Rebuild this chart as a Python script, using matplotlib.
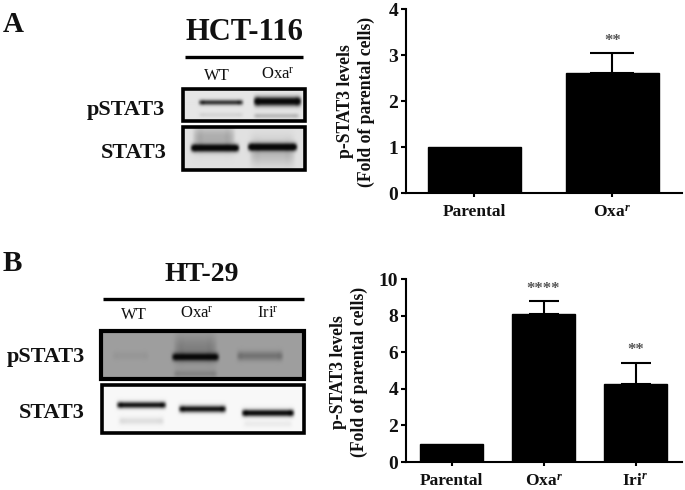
import numpy as np
import matplotlib
matplotlib.use('Agg')
import matplotlib.pyplot as plt
from matplotlib.patches import Rectangle

plt.rcParams['font.family'] = ['Liberation Serif', 'DejaVu Serif']
plt.rcParams['mathtext.fontset'] = 'custom'
plt.rcParams['mathtext.rm'] = 'Liberation Serif'
plt.rcParams['mathtext.it'] = 'Liberation Serif:italic:bold'
plt.rcParams['mathtext.bf'] = 'Liberation Serif:bold'

W, H = 685, 490

# bar chart values
labels_a = ['Parental', r'Oxa$^{\mathit{r}}$']
means_a = [1.0, 2.6]
errs_a = [0.0, 0.44]
stars_a = ['', '**']
star_y_a = [0, 3.3]

labels_b = ['Parental', r'Oxa$^{\mathit{r}}$', r'Iri$^{\mathit{r}}$']
means_b = [1.0, 8.1, 4.27]
errs_b = [0.0, 0.7, 1.13]
stars_b = ['', '****', '**']
star_y_b = [0, 9.45, 6.1]

# blot bands: x0, x1, y, half height, darkness (picture pixels)
bands_a_top = [(198, 244, 103, 2.2, 0.8), (253, 302, 102, 4.0, 1.1),
               (198, 244, 115, 1.8, 0.08), (253, 300, 116, 2.0, 0.2)]
bands_a_bot = [(190, 240, 148, 3.4, 1.1), (247, 298, 147, 3.4, 1.1),
               (192, 236, 138, 12.0, 0.2), (249, 296, 152, 13.0, 0.16)]
bands_b_top = [(171, 220, 357, 3.6, 0.6), (173, 218, 350, 14.0, 0.12),
               (173, 218, 374, 3.5, 0.1), (236, 284, 356, 4.5, 0.17),
               (112, 150, 356, 4.0, 0.03)]
bands_b_bot = [(116, 167, 405, 3.0, 0.95), (178, 227, 409, 3.2, 0.95),
               (241, 295, 413, 3.2, 1.05), (118, 165, 421, 3.5, 0.1),
               (243, 293, 424, 3.0, 0.05)]


def soften(img):
    """small gaussian blur, the scan in the reference is soft"""
    kernel = np.array([1, 4, 6, 4, 1]) / 16
    pad = np.pad(img, 2, mode='edge')
    pad = np.apply_along_axis(lambda r: np.convolve(r, kernel, mode='same'), 0, pad)
    pad = np.apply_along_axis(lambda r: np.convolve(r, kernel, mode='same'), 1, pad)
    return pad[2:-2, 2:-2]


def blot(ax, x0, x1, y0, y1, bg, bands, lw):
    """draw one blot panel as a small grey image with its frame"""
    xx, yy = np.meshgrid(np.arange(x0, x1) + 0.5, np.arange(y0, y1) + 0.5)
    img = np.full(xx.shape, bg, dtype=float)
    for bx0, bx1, by, bh, dark in bands:
        edge = 12 if bh > 8 else 7
        across = np.clip((xx - bx0) / edge, 0, 1) * np.clip((bx1 - xx) / edge, 0, 1)
        across = across * (3 - 2 * across)
        img -= dark * across * np.exp(-((yy - by) / bh) ** 2)
    img = soften(np.clip(img, 0.03, 1))
    ax.imshow(img, cmap='gray', vmin=0, vmax=1, aspect='auto',
              extent=(x0, x1, y1, y0), interpolation='bilinear', zorder=1)
    ax.add_patch(Rectangle((x0, y0), x1 - x0, y1 - y0, fill=False, ec='black', lw=lw, zorder=2))


def bars(box, labels, means, errs, stars, star_y, ymax, yticks, width, capsize):
    left, right, top, bottom = box
    ax = fig.add_axes([left / W, 1 - bottom / H, (right - left) / W, (bottom - top) / H])
    x = np.arange(len(labels))
    ax.bar(x, means, width=width, color='black', edgecolor='black')
    ax.errorbar(x[1:], means[1:], yerr=[[0] * (len(x) - 1), errs[1:]], fmt='none',
                ecolor='black', elinewidth=1.5, capsize=capsize, capthick=1.5)
    for i, s in enumerate(stars):
        if s:
            ax.text(i, star_y[i], s, ha='center', va='center', fontsize=12,
                    fontweight='bold', color='#555555')
    ax.set_xlim(-0.495, len(x) - 0.495)
    ax.set_ylim(0, ymax)
    ax.set_xticks(x)
    ax.set_xticklabels(labels, fontsize=12.5, fontweight='bold', color='#111111')
    ax.set_yticks(yticks)
    ax.set_yticklabels([str(v) for v in yticks], fontsize=14, fontweight='bold', color='#111111')
    ax.tick_params(axis='y', length=3.5, width=1.5, pad=2)
    ax.tick_params(axis='x', length=3, width=1.5, pad=5)
    ax.patch.set_alpha(0)
    for s in ['top', 'right']:
        ax.spines[s].set_visible(False)
    for s in ['left', 'bottom']:
        ax.spines[s].set_linewidth(1.5)
    return ax


fig = plt.figure(figsize=(W / 100, H / 100), dpi=100, facecolor='white')

# overlay in picture pixels for the blots and their captions
bg = fig.add_axes([0, 0, 1, 1])
bg.set_xlim(0, W)
bg.set_ylim(H, 0)
bg.axis('off')

blot(bg, 183, 305, 89, 121, 0.9, bands_a_top, 2.6)
blot(bg, 183, 305, 127, 170, 0.88, bands_a_bot, 2.6)
blot(bg, 101, 304, 331, 379, 0.62, bands_b_top, 3.0)
blot(bg, 102, 304, 385, 433, 0.97, bands_b_bot, 2.6)
bg.set_xlim(0, W)
bg.set_ylim(H, 0)

bg.plot([185, 303], [57, 57], color='black', lw=2.4, solid_capstyle='butt')
bg.plot([103, 304], [298.5, 298.5], color='black', lw=2.4, solid_capstyle='butt')


def cap(x, y, s, size, ha='center', weight='bold'):
    bg.text(x, y, s, fontsize=size, ha=ha, va='center', fontweight=weight, color='#111111')


cap(3, 24, 'A', 21, ha='left')
cap(3, 263, 'B', 21, ha='left')
cap(244, 33, 'HCT-116', 22)
cap(202, 274, 'HT-29', 20)
cap(217, 76, 'WT', 12, weight='normal')
cap(278, 75, r'Oxa$^{\mathrm{r}}$', 12, weight='normal')
cap(134, 315, 'WT', 12, weight='normal')
cap(197, 314, r'Oxa$^{\mathrm{r}}$', 12, weight='normal')
cap(268, 314, r'Iri$^{\mathrm{r}}$', 12, weight='normal')
cap(165, 110, 'pSTAT3', 16, ha='right')
cap(167, 153, 'STAT3', 16, ha='right')
cap(85, 357, 'pSTAT3', 16, ha='right')
cap(85, 413, 'STAT3', 16, ha='right')

for x, y, s in [(346, 101, 'p-STAT3 levels'), (366, 102, '(Fold of parental cells)'),
                (339, 372, 'p-STAT3 levels'), (359, 372, '(Fold of parental cells)')]:
    bg.text(x, y, s, rotation=90, fontsize=12.7, fontweight='bold', ha='center', va='center', color='#111111')

bars((406, 682, 9, 193), labels_a, means_a, errs_a, stars_a, star_y_a, 4, [0, 1, 2, 3, 4], 0.674, 16)
bars((406, 682, 279, 462), labels_b, means_b, errs_b, stars_b, star_y_b, 10, [0, 2, 4, 6, 8, 10], 0.685, 11)

fig.savefig('out.png', dpi=100)
plt.close(fig)
